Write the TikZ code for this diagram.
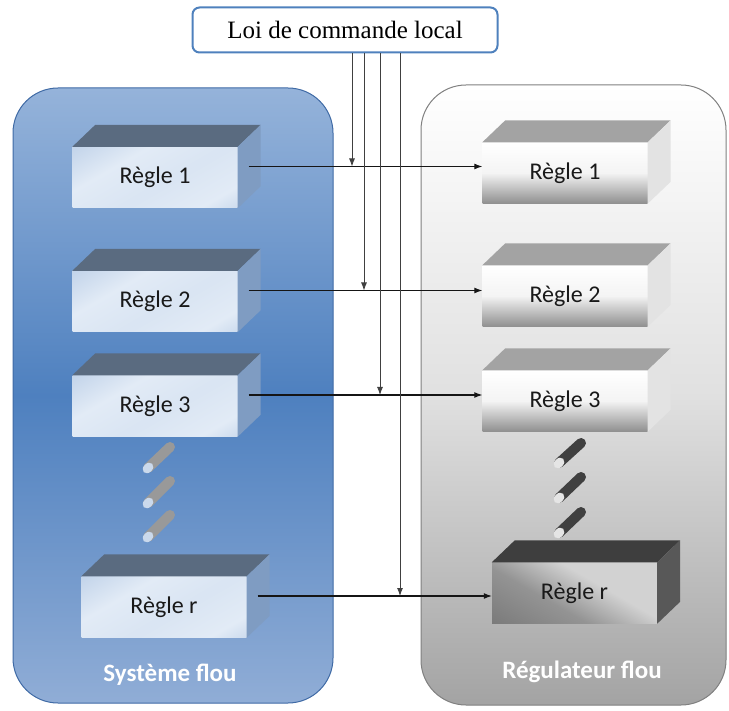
\documentclass[tikz,border=0pt]{standalone}
\usepackage{fontspec}
\setmainfont{Liberation Serif}
\newfontfamily\calib{Carlito}
\usetikzlibrary{arrows.meta,calc}
\definecolor{panelTop}{HTML}{95B3DA}
\definecolor{panelMid}{HTML}{4E80BF}
\definecolor{panelBot}{HTML}{90ADD6}
\definecolor{panelEdge}{HTML}{3F6AA5}
\definecolor{ltop}{HTML}{5A6B80}
\definecolor{lside}{HTML}{7F9CC2}
\definecolor{lfA}{HTML}{A9C1E0}
\definecolor{lfB}{HTML}{E2EBF6}
\definecolor{rtop}{HTML}{A3A3A3}
\definecolor{rside}{HTML}{E3E3E3}
\definecolor{rfBot}{HTML}{8F8F8F}
\definecolor{rrtop}{HTML}{3E3E3E}
\definecolor{rrside}{HTML}{585858}
\definecolor{rrA}{HTML}{6A6A6A}
\definecolor{rrB}{HTML}{D2D2D2}
\definecolor{lineC}{HTML}{151515}
\definecolor{topEdge}{HTML}{4F81BD}
\pgfdeclarehorizontalshading{lface}{100bp}{color(0bp)=(lfA); color(35bp)=(lfB); color(55bp)=(lfB!85!lfA); color(75bp)=(lfB); color(100bp)=(lfA)}
\pgfdeclarehorizontalshading{rrface}{100bp}{color(0bp)=(rrA); color(40bp)=(rrA!60!rrB); color(60bp)=(rrB); color(100bp)=(rrB)}
\tikzset{
  face/.style={minimum width=165pt, minimum height=61pt, inner sep=0pt, font=\calib\fontsize{24}{26}\selectfont, text=black!90},
  leftface/.style={face, shading=lface, shading angle=-60},
  rightface/.style={face, top color=white, bottom color=rfBot, middle color=white!90!rfBot},
  darkface/.style={face, shading=rrface, shading angle=60},
  conn/.style={lineC, line width=1.1pt, -{Latex[length=8pt,width=6pt]}},
  vconn/.style={black!75, line width=0.9pt, -{Latex[length=8pt,width=6pt]}},
  paneltitle/.style={font=\calib\bfseries\fontsize{25}{27}\selectfont, text=white},
  cyl/.style={line width=10pt, line cap=round},
}
\newcommand{\boxfaces}[3]{%
  \fill[#2] (#1.north west) -- (#1.north east) -- ++(23pt,22pt) -- ($(#1.north west)+(23pt,22pt)$) -- cycle;
  \fill[#3] (#1.north east) -- (#1.south east) -- ++(23pt,22pt) -- ($(#1.north east)+(23pt,22pt)$) -- cycle;
}
\newcommand{\cylinder}[4]{%
  \draw[cyl,#3] (#1) -- (#2);
  \fill[#4] (#1) ellipse[x radius=4.5pt, y radius=6pt, rotate=-45];
}
\begin{document}
\begin{tikzpicture}[x=1pt,y=-1pt]
\useasboundingbox (0,0) rectangle (729,711);
% panels
\shade[top color=panelTop, bottom color=panelBot, middle color=panelMid, rounded corners=45pt, draw=panelEdge, line width=1pt]
  (13,88) rectangle (333,703);
\shade[top color=white, bottom color=black!36, middle color=black!12, rounded corners=45pt, draw=black!50, line width=1pt]
  (421,85) rectangle (726,705);
\node[paneltitle] (t1) at (170,675) {Système flou};
\node[paneltitle] (t2) at (582,672) {Régulateur flou};
% top box
\node[draw=topEdge, line width=2pt, fill=white, rounded corners=7pt, minimum width=305pt, minimum height=45pt, font=\fontsize{25}{27}\selectfont] (lc) at (345,30) {Loi de commande local};
% left rules
\node[leftface] (l1) at (155,177.5) {Règle 1};
\node[leftface] (l2) at (155,301.5) {Règle 2};
\node[leftface] (l3) at (155,406) {Règle 3};
\node[leftface] (lr) at (164,607) {Règle r};
\boxfaces{l1}{ltop}{lside}
\boxfaces{l2}{ltop}{lside}
\boxfaces{l3}{ltop}{lside}
\boxfaces{lr}{ltop}{lside}
% right rules
\node[rightface] (r1) at (565,173) {Règle 1};
\node[rightface] (r2) at (565,296) {Règle 2};
\node[rightface] (r3) at (565,401) {Règle 3};
\node[darkface] (rr) at (574.5,593) {Règle r};
\boxfaces{r1}{rtop}{rside}
\boxfaces{r2}{rtop}{rside}
\boxfaces{r3}{rtop}{rside}
\boxfaces{rr}{rrtop}{rrside}
% ellipsis cylinders
\coordinate (a1) at (148,468); \coordinate (b1) at (170,447);
\coordinate (a2) at (148,503); \coordinate (b2) at (170,481);
\coordinate (a3) at (148,537); \coordinate (b3) at (170,515);
\cylinder{a1}{b1}{black!40}{white!70!panelMid}
\cylinder{a2}{b2}{black!40}{white!70!panelMid}
\cylinder{a3}{b3}{black!40}{white!70!panelMid}
\coordinate (c1) at (559,463); \coordinate (d1) at (581,443);
\coordinate (c2) at (559,498); \coordinate (d2) at (581,477);
\coordinate (c3) at (559,533); \coordinate (d3) at (581,512);
\cylinder{c1}{d1}{black!75}{black!10}
\cylinder{c2}{d2}{black!75}{black!10}
\cylinder{c3}{d3}{black!75}{black!10}
% horizontal connectors
\coordinate (s1) at ($(l1.east)+(11pt,11pt)$);
\coordinate (s2) at ($(l2.east)+(11pt,11pt)$);
\coordinate (s3) at ($(l3.east)+(11pt,11pt)$);
\coordinate (sr) at ($(lr.east)+(11pt,11pt)$);
\draw[conn] (s1) -- (s1 -| r1.west);
\draw[conn] (s2) -- (s2 -| r2.west);
\draw[conn] (s3) -- (s3 -| r3.west);
\draw[conn] (sr) -- (sr -| rr.west);
% vertical connectors
\coordinate (v1) at (352,0);
\coordinate (v2) at (364,0);
\coordinate (v3) at (380,0);
\coordinate (v4) at (400,0);
\draw[vconn] (v1 |- lc.south) -- (v1 |- s1);
\draw[vconn] (v2 |- lc.south) -- (v2 |- s2);
\draw[vconn] (v3 |- lc.south) -- (v3 |- s3);
\draw[vconn] (v4 |- lc.south) -- (v4 |- sr);
\end{tikzpicture}
\end{document}
